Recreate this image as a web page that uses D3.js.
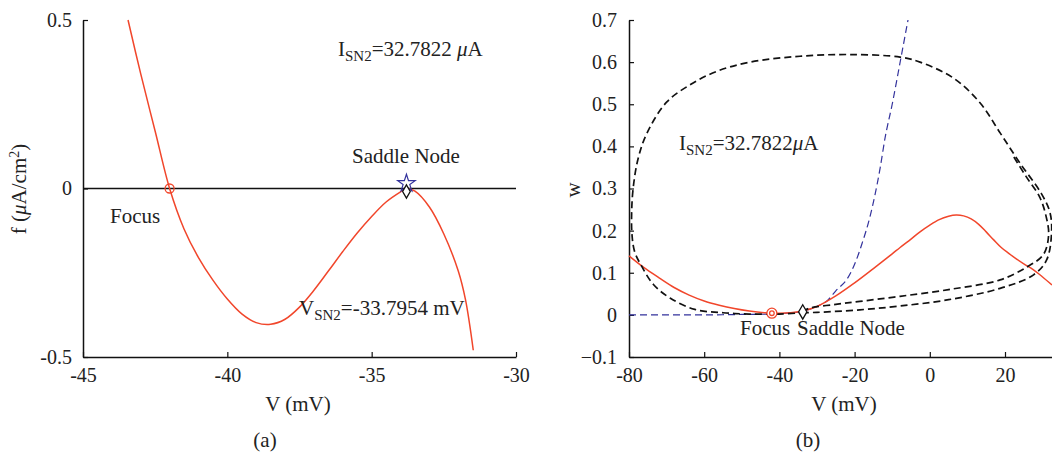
<!DOCTYPE html>
<html>
<head>
<meta charset="utf-8">
<script src="https://cdn.jsdelivr.net/npm/d3@7"></script>
<style>
  html, body { margin: 0; padding: 0; background: #fff; }
  svg { display: block; }
  text { font-family: "Liberation Serif", "Times New Roman", serif; fill: #222; }
</style>
</head>
<body>
<svg id="chart" width="1052" height="456"></svg>
<script>
// ---------- panel (a): f(V) near the saddle-node ----------
const fV = [-43.44, -43.0, -42.5, -42.0, -41.5, -41.0, -40.5, -40.0, -39.5, -39.0, -38.5, -38.0,
            -37.5, -37.0, -36.5, -36.0, -35.5, -35.0, -34.5, -34.0, -33.7954, -33.5, -33.0, -32.5,
            -32.0, -31.75, -31.48];
const fVal = [0.5, 0.34, 0.17, 0.0, -0.12, -0.205, -0.272, -0.328, -0.372, -0.398, -0.403, -0.388,
              -0.352, -0.302, -0.245, -0.187, -0.132, -0.083, -0.04, -0.01, 0.0, -0.008, -0.055, -0.135,
              -0.245, -0.33, -0.48];
const aTicksX = [-45, -40, -35, -30];
const aTicksY = [-0.5, 0, 0.5];
const aFocus = { v: -42.0, f: 0 };
const aSaddle = { v: -33.7954, f: 0 };

// ---------- panel (b): phase plane ----------
// V-nullcline
const vnV = [-80, -76, -72, -68, -64, -60, -56, -52, -48, -44, -40, -37, -34, -30, -25, -20,
             -15, -10, -7.9, -5, -2.6, 0, 2.5, 5, 7, 9, 11, 13, 15, 17, 19, 21, 23, 25, 27.4, 30, 32.5];
const vnW = [0.14, 0.112, 0.088, 0.065, 0.047, 0.033, 0.023, 0.015, 0.009, 0.005, 0.004, 0.005, 0.009,
             0.02, 0.045, 0.076, 0.11, 0.145, 0.16, 0.18, 0.197, 0.213, 0.226, 0.234, 0.237, 0.235,
             0.228, 0.215, 0.197, 0.178, 0.16, 0.146, 0.133, 0.121, 0.108, 0.09, 0.071];
// w-nullcline
const wnV = [-80, -60, -50, -42, -38, -34, -30, -27, -25, -22, -20, -18, -16, -13.2, -11.9, -10, -7.7, -5.8];
const wnW = [0, 0, 0.001, 0.002, 0.004, 0.008, 0.02, 0.036, 0.057, 0.085, 0.12, 0.17, 0.23, 0.349,
             0.42, 0.5, 0.609, 0.7];
// trajectory along the invariant circle (outer branch)
const orbitV = [-34, -30, -18.6, -7.9, 5, 18.7, 27.6, 31.1, 32.4, 31.9, 29.6, 24, 18.7, 13.4, 6.3, -2.6,
                -7.9, -21.2, -34.5, -47.8, -56.7, -63.8, -70, -75.3, -77.6, -78.9, -79.3, -79.2, -78.5,
                -76.6, -73.5, -69.1, -62.5, -55, -48, -40, -34];
const orbitW = [0.005, 0.006, 0.012, 0.021, 0.036, 0.063, 0.095, 0.131, 0.2, 0.245, 0.289, 0.36, 0.432,
                0.503, 0.562, 0.6, 0.612, 0.618, 0.614, 0.6, 0.578, 0.546, 0.505, 0.43, 0.37, 0.3, 0.24,
                0.19, 0.15, 0.115, 0.072, 0.04, 0.013, 0.005, 0.002, 0.002, 0.005];
// second trajectory (inner branch)
const orbit2V = [-34, -31.9, -25, -18.6, -7.9, 5, 18.7, 25.7, 30.2, 31.6, 30.9, 29.2, 25.5, 22];
const orbit2W = [0.008, 0.016, 0.025, 0.032, 0.044, 0.06, 0.083, 0.113, 0.143, 0.19, 0.235, 0.28, 0.33, 0.38];
const bTicksX = [-80, -60, -40, -20, 0, 20];
const bTicksY = [-0.1, 0, 0.1, 0.2, 0.3, 0.4, 0.5, 0.6, 0.7];
const bFocus = { v: -42.0, w: 0.004 };
const bSaddle = { v: -33.7954, w: 0.007 };

const RED = "#f1462b";
const BLUE = "#33329c";
const FONT = 21;
const TICKFONT = 20;
const SUBFONT = 15;

const svg = d3.select("#chart");
const zip = (xs, ys) => xs.map((x, i) => [x, ys[i]]);
const fmt = d => String(d);

function styleAxis(g) {
  g.attr("font-family", null).attr("font-size", null);
  g.select(".domain").attr("stroke", "#111").attr("stroke-width", 1.5);
  g.selectAll(".tick line").attr("stroke", "#111").attr("stroke-width", 1.2);
  g.selectAll(".tick text").attr("fill", "#222").style("font-size", TICKFONT + "px")
    .style("font-family", '"Liberation Serif", serif');
}

// annotation with a subscript and an optional italic mu
function subText(x, y, parts) {
  const t = svg.append("text").attr("x", x).attr("y", y).style("font-size", FONT + "px");
  parts.forEach(p => {
    const s = t.append("tspan").text(p.t);
    if (p.sub) s.attr("dy", 5).style("font-size", SUBFONT + "px");
    if (p.up) s.attr("dy", -5);
    if (p.it) s.style("font-style", "italic");
  });
  return t;
}

// ===== panel (a) =====
{
  const x = d3.scaleLinear().domain([-45, -30]).range([83, 516]);
  const y = d3.scaleLinear().domain([-0.5, 0.5]).range([357, 20]);

  svg.append("g").attr("transform", `translate(0,${y(-0.5)})`)
    .call(d3.axisBottom(x).tickValues(aTicksX).tickFormat(fmt).tickSize(-5).tickSizeOuter(0).tickPadding(11))
    .call(styleAxis);
  svg.append("g").attr("transform", `translate(${x(-45)},0)`)
    .call(d3.axisLeft(y).tickValues(aTicksY).tickFormat(fmt).tickSize(-5).tickSizeOuter(0).tickPadding(11))
    .call(styleAxis);

  // zero line
  svg.append("line").attr("x1", x(-45)).attr("x2", x(-30)).attr("y1", y(0)).attr("y2", y(0))
    .attr("stroke", "#111").attr("stroke-width", 1.3);

  svg.append("path").datum(zip(fV, fVal))
    .attr("fill", "none").attr("stroke", RED).attr("stroke-width", 1.5)
    .attr("d", d3.line().x(d => x(d[0])).y(d => y(d[1])).curve(d3.curveCatmullRom));

  svg.append("circle").attr("cx", x(aFocus.v)).attr("cy", y(aFocus.f)).attr("r", 4.5)
    .attr("fill", "none").attr("stroke", RED).attr("stroke-width", 1.3);

  svg.append("path").attr("d", d3.symbol(d3.symbolStar, 95)())
    .attr("transform", `translate(${x(aSaddle.v)},${y(aSaddle.f) - 5})`)
    .attr("fill", "none").attr("stroke", BLUE).attr("stroke-width", 1.2);
  svg.append("path").attr("d", d3.symbol(d3.symbolDiamond, 50)())
    .attr("transform", `translate(${x(aSaddle.v)},${y(aSaddle.f) + 3})`)
    .attr("fill", "#fff").attr("stroke", "#111").attr("stroke-width", 1.3);

  subText(338, 56, [{ t: "I" }, { t: "SN2", sub: true }, { t: "=32.7822 ", up: true }, { t: "μ", it: true }, { t: "A" }]);
  svg.append("text").attr("x", 352).attr("y", 163).style("font-size", FONT + "px").text("Saddle Node");
  svg.append("text").attr("x", 110).attr("y", 223).style("font-size", FONT + "px").text("Focus");
  subText(299, 315, [{ t: "V" }, { t: "SN2", sub: true }, { t: "=-33.7954 mV", up: true }]);

  svg.append("text").attr("x", 298).attr("y", 411).attr("text-anchor", "middle")
    .style("font-size", FONT + "px").text("V (mV)");
  svg.append("text").attr("x", 265).attr("y", 447).attr("text-anchor", "middle")
    .style("font-size", FONT + "px").text("(a)");

  const yl = svg.append("text").attr("transform", "translate(26,189) rotate(-90)")
    .attr("text-anchor", "middle").style("font-size", FONT + "px");
  yl.append("tspan").text("f (");
  yl.append("tspan").style("font-style", "italic").text("μ");
  yl.append("tspan").text("A/cm");
  yl.append("tspan").attr("dy", -7).style("font-size", "14px").text("2");
  yl.append("tspan").attr("dy", 7).text(")");
}

// ===== panel (b) =====
{
  const x = d3.scaleLinear().domain([-80, 32.5]).range([629, 1052]);
  const y = d3.scaleLinear().domain([-0.1, 0.7]).range([357, 20]);
  const line = d3.line().x(d => x(d[0])).y(d => y(d[1])).curve(d3.curveCatmullRom);
  const fnLine = d3.line().x(d => x(d[0])).y(d => y(d[1])).curve(d3.curveMonotoneX);

  svg.append("g").attr("transform", `translate(0,${y(-0.1)})`)
    .call(d3.axisBottom(x).tickValues(bTicksX).tickFormat(fmt).tickSize(-5).tickSizeOuter(0).tickPadding(11))
    .call(styleAxis);
  svg.append("g").attr("transform", `translate(${x(-80)},0)`)
    .call(d3.axisLeft(y).tickValues(bTicksY).tickFormat(d3.format(".1~f")).tickSize(-5).tickSizeOuter(0).tickPadding(12))
    .call(styleAxis);

  svg.append("path").datum(zip(wnV, wnW))
    .attr("fill", "none").attr("stroke", BLUE).attr("stroke-width", 1.2)
    .attr("stroke-dasharray", "7,4").attr("d", fnLine);

  svg.append("path").datum(zip(vnV, vnW))
    .attr("fill", "none").attr("stroke", RED).attr("stroke-width", 1.5).attr("d", line);

  [zip(orbitV, orbitW), zip(orbit2V, orbit2W)].forEach(pts => {
    svg.append("path").datum(pts)
      .attr("fill", "none").attr("stroke", "#111").attr("stroke-width", 1.7)
      .attr("stroke-dasharray", "7,4").attr("d", line);
  });

  svg.append("circle").attr("cx", x(bFocus.v)).attr("cy", y(bFocus.w)).attr("r", 5)
    .attr("fill", "#fff").attr("stroke", RED).attr("stroke-width", 1.3);
  svg.append("circle").attr("cx", x(bFocus.v)).attr("cy", y(bFocus.w)).attr("r", 2.3)
    .attr("fill", "#fff").attr("stroke", RED).attr("stroke-width", 1.3);
  svg.append("path").attr("d", d3.symbol(d3.symbolDiamond, 60)())
    .attr("transform", `translate(${x(bSaddle.v)},${y(bSaddle.w)})`)
    .attr("fill", "#fff").attr("stroke", "#111").attr("stroke-width", 1.3);

  subText(679, 150, [{ t: "I" }, { t: "SN2", sub: true }, { t: "=32.7822", up: true }, { t: "μ", it: true }, { t: "A" }]);
  svg.append("text").attr("x", 740).attr("y", 335).style("font-size", FONT + "px").text("Focus");
  svg.append("text").attr("x", 797).attr("y", 335).style("font-size", FONT + "px").text("Saddle Node");

  svg.append("text").attr("x", 844).attr("y", 411).attr("text-anchor", "middle")
    .style("font-size", FONT + "px").text("V (mV)");
  svg.append("text").attr("x", 808).attr("y", 447).attr("text-anchor", "middle")
    .style("font-size", FONT + "px").text("(b)");
  svg.append("text").attr("transform", "translate(580,190) rotate(-90)")
    .attr("text-anchor", "middle").style("font-size", FONT + "px").text("w");
}
</script>
</body>
</html>
